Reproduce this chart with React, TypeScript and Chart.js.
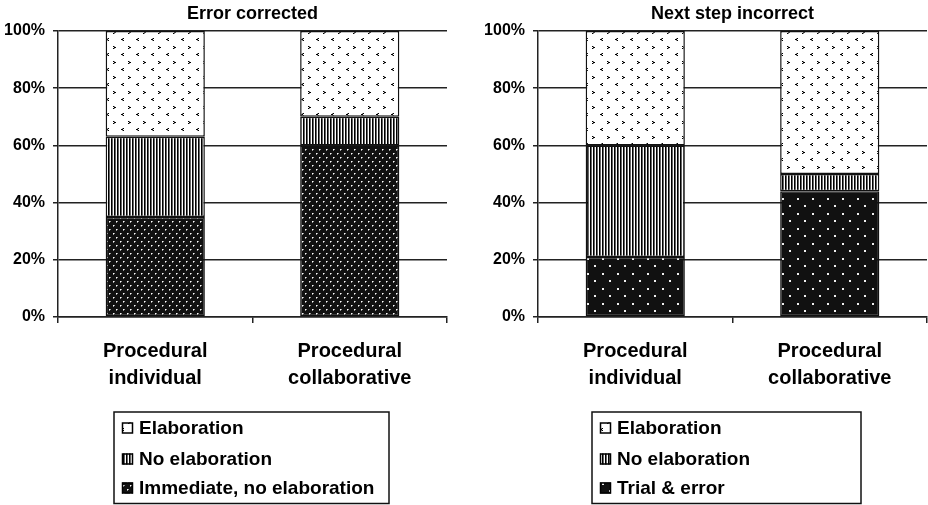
import React, { useEffect, useRef } from 'react';
import { Chart, registerables } from 'chart.js';

Chart.register(...registerables);

const categories = [['Procedural', 'individual'], ['Procedural', 'collaborative']];
const yTickValues = [0, 20, 40, 60, 80, 100];
const leftTitle = 'Error corrected';
const rightTitle = 'Next step incorrect';
const leftSeriesNames = ['Immediate, no elaboration', 'No elaboration', 'Elaboration'];
const rightSeriesNames = ['Trial & error', 'No elaboration', 'Elaboration'];
const leftImmediate = [35, 60];
const leftNoElaboration = [28, 10];
const leftElaboration = [37, 30];
const rightTrialError = [21, 44];
const rightNoElaboration = [39, 6];
const rightElaboration = [40, 50];

const FONT = '"Liberation Sans", Arial, Helvetica, sans-serif';

function makeTile(w: number, h: number, draw: (g: CanvasRenderingContext2D) => void) {
  const c = document.createElement('canvas');
  c.width = w;
  c.height = h;
  const g = c.getContext('2d') as CanvasRenderingContext2D;
  draw(g);
  return c;
}

function makePatterns(ctx: CanvasRenderingContext2D) {
  const elab = makeTile(15, 15, (g) => {
    g.fillStyle = '#fff';
    g.fillRect(0, 0, 15, 15);
    g.fillStyle = '#000';
    // '>' mark
    g.fillRect(8, 1, 1, 1);
    g.fillRect(9, 2, 2, 1);
    g.fillRect(8, 3, 1, 1);
    // '<' mark
    g.fillRect(3, 8, 1, 1);
    g.fillRect(1, 9, 2, 1);
    g.fillRect(3, 10, 1, 1);
    g.fillStyle = '#888';
    g.fillRect(9, 1, 1, 1);
    g.fillRect(9, 3, 1, 1);
    g.fillRect(2, 8, 1, 1);
    g.fillRect(2, 10, 1, 1);
  });
  const stripes = makeTile(3, 4, (g) => {
    g.fillStyle = '#fff';
    g.fillRect(0, 0, 3, 4);
    g.fillStyle = '#000';
    g.fillRect(0, 0, 1, 4);
    g.fillStyle = '#666';
    g.fillRect(1, 0, 1, 4);
  });
  const dense = makeTile(7, 8, (g) => {
    g.fillStyle = '#111';
    g.fillRect(0, 0, 7, 8);
    g.fillStyle = '#fff';
    g.fillRect(1, 1, 1, 1);
    g.fillRect(4, 5, 1, 1);
    g.fillStyle = '#999';
    g.fillRect(2, 1, 1, 1);
    g.fillRect(1, 2, 1, 1);
    g.fillRect(5, 5, 1, 1);
    g.fillRect(4, 6, 1, 1);
  });
  const sparse = makeTile(15, 15, (g) => {
    g.fillStyle = '#111';
    g.fillRect(0, 0, 15, 15);
    g.fillStyle = '#eee';
    g.fillRect(3, 3, 2, 2);
    g.fillRect(10, 10, 2, 2);
  });
  return {
    elab: ctx.createPattern(elab, 'repeat'),
    stripes: ctx.createPattern(stripes, 'repeat'),
    dense: ctx.createPattern(dense, 'repeat'),
    sparse: ctx.createPattern(sparse, 'repeat'),
  };
}

const boxLegendPlugin = {
  id: 'boxLegend',
  afterDraw(chart: any, _args: any, opts: any) {
    const { ctx, chartArea } = chart;
    const x = chartArea.left + opts.offsetX;
    const y = opts.top;
    ctx.save();
    ctx.lineWidth = 1.5;
    ctx.strokeStyle = '#111';
    ctx.strokeRect(x, y, opts.width, opts.height);
    const ds = chart.data.datasets.slice().reverse();
    ds.forEach((d: any, i: number) => {
      const cy = y + opts.rows[i];
      ctx.fillStyle = d.backgroundColor;
      ctx.fillRect(x + 8, cy - 5.5, 11, 11);
      ctx.lineWidth = 1.5;
      ctx.strokeStyle = '#000';
      ctx.strokeRect(x + 8.5, cy - 5, 10, 10);
      ctx.fillStyle = '#000';
      ctx.font = `bold 19px ${FONT}`;
      ctx.textBaseline = 'middle';
      ctx.textAlign = 'left';
      ctx.fillText(d.label, x + 25, cy + 1);
    });
    ctx.restore();
  },
};

function buildConfig(title: string, names: string[], series: number[][], fills: any[], pad: any, legendBox: any) {
  return {
    type: 'bar' as const,
    data: {
      labels: categories,
      datasets: series.map((d, i) => ({
        label: names[i],
        data: d,
        backgroundColor: fills[i],
        borderColor: '#111',
        borderWidth: 1.5,
        borderSkipped: false,
        barPercentage: 0.51,
        categoryPercentage: 1,
      })),
    },
    options: {
      responsive: false,
      animation: false,
      layout: { padding: pad },
      plugins: {
        legend: { display: false },
        tooltip: { enabled: false },
        title: {
          display: true,
          text: title,
          fullSize: false,
          color: '#000',
          font: { family: FONT, size: 18, weight: 'bold', lineHeight: 1.2 },
          padding: { top: 3, bottom: 6.4 },
        },
        boxLegend: legendBox,
      },
      scales: {
        x: {
          stacked: true,
          grid: { offset: true, drawOnChartArea: false, drawTicks: true, tickLength: 6, color: '#222', lineWidth: 1.5 },
          border: { display: true, color: '#222', width: 1.5 },
          ticks: {
            color: '#000',
            font: { family: FONT, size: 20, weight: 'bold', lineHeight: 1.35 },
            padding: 14.5,
            maxRotation: 0,
            autoSkip: false,
          },
          afterFit: (s: any) => {
            s.height = 188;
          },
        },
        y: {
          stacked: true,
          min: 0,
          max: 100,
          afterBuildTicks: (s: any) => {
            s.ticks = yTickValues.map((v) => ({ value: v }));
          },
          ticks: {
            color: '#000',
            callback: (v: any) => `${v}%`,
            padding: 8,
            font: { family: FONT, size: 16, weight: 'bold' },
          },
          grid: { color: '#222', lineWidth: 1.5, tickLength: 5 },
          border: { display: true, color: '#222', width: 1.5 },
          afterFit: (s: any) => {
            s.width = 54;
          },
        },
      },
    },
    plugins: [boxLegendPlugin],
  };
}

export default function App() {
  const leftRef = useRef<HTMLCanvasElement>(null);
  const rightRef = useRef<HTMLCanvasElement>(null);

  useEffect(() => {
    const lc = leftRef.current!;
    const rc = rightRef.current!;
    const lctx = lc.getContext('2d') as CanvasRenderingContext2D;
    const rctx = rc.getContext('2d') as CanvasRenderingContext2D;
    const lp = makePatterns(lctx);
    const rp = makePatterns(rctx);
    const rows = [16, 47, 76];
    const left = new Chart(
      lc,
      buildConfig(
        leftTitle,
        leftSeriesNames,
        [leftImmediate, leftNoElaboration, leftElaboration],
        [lp.dense, lp.stripes, lp.elab],
        { left: 4, right: 17, top: 0, bottom: 0 },
        { offsetX: 56, top: 412, width: 275, height: 91.5, rows }
      ) as any
    );
    const right = new Chart(
      rc,
      buildConfig(
        rightTitle,
        rightSeriesNames,
        [rightTrialError, rightNoElaboration, rightElaboration],
        [rp.sparse, rp.stripes, rp.elab],
        { left: 20, right: 1, top: 0, bottom: 0 },
        { offsetX: 54, top: 412, width: 269, height: 91.5, rows }
      ) as any
    );
    return () => {
      left.destroy();
      right.destroy();
    };
  }, []);

  return (
    <div style={{ position: 'absolute', left: 0, top: 0, width: 928, height: 505, background: '#fff' }}>
      <canvas ref={leftRef} width={464} height={505} style={{ position: 'absolute', left: 0, top: 0, width: 464, height: 505 }} />
      <canvas ref={rightRef} width={464} height={505} style={{ position: 'absolute', left: 464, top: 0, width: 464, height: 505 }} />
    </div>
  );
}
